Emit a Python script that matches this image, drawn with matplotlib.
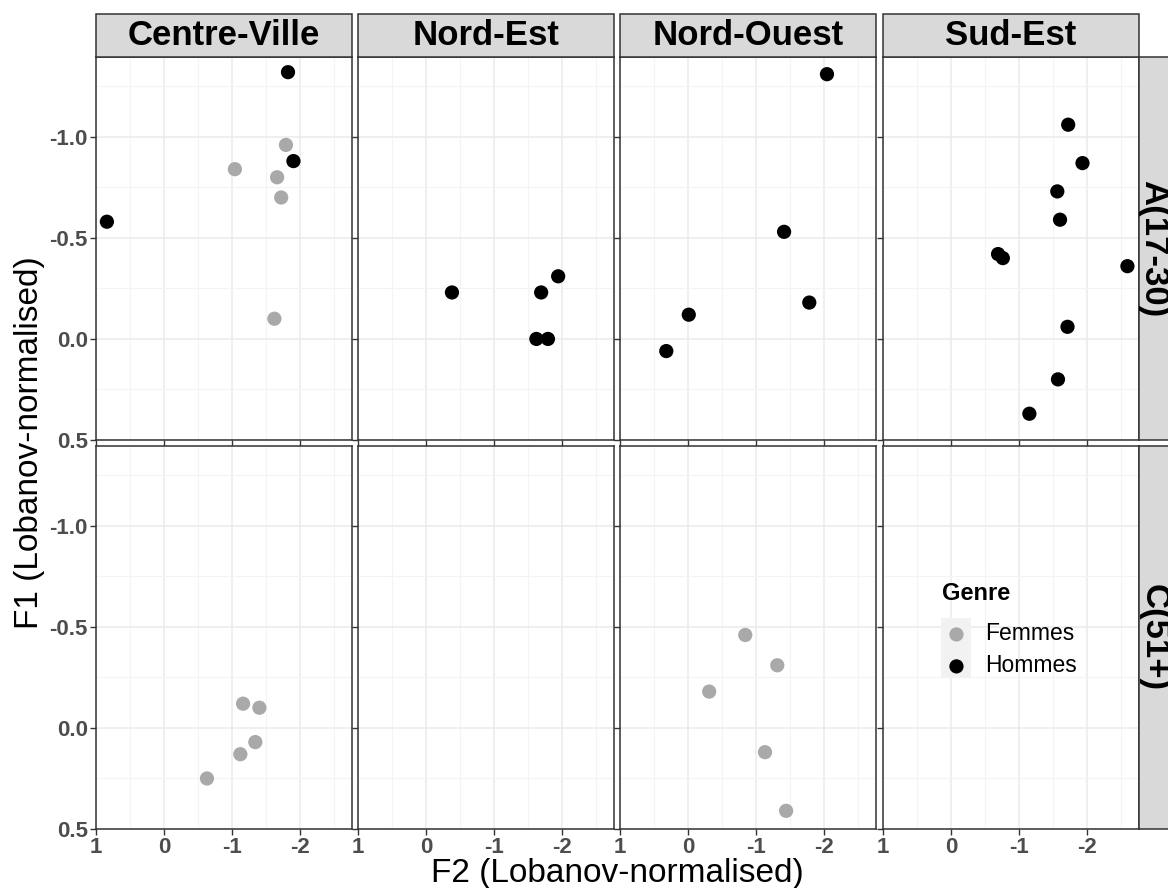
import matplotlib
matplotlib.use("Agg")
import matplotlib.pyplot as plt
from matplotlib.patches import Rectangle

plt.rcParams['font.family'] = ['Liberation Sans', 'DejaVu Sans']

# facets
zones = ["Centre-Ville", "Nord-Est", "Nord-Ouest", "Sud-Est"]
ages = ["A(17-30)", "C(51+)"]
genres = ["Femmes", "Hommes"]
genre_colors = {"Femmes": "#A9A9A9", "Hommes": "#000000"}

# A(17-30)
cv_a_f2 = [-1.82, -1.90, 0.84, -1.79, -1.04, -1.66, -1.72, -1.62]
cv_a_f1 = [-1.32, -0.88, -0.58, -0.96, -0.84, -0.80, -0.70, -0.10]
cv_a_genre = ["Hommes", "Hommes", "Hommes", "Femmes", "Femmes", "Femmes", "Femmes", "Femmes"]

ne_a_f2 = [-0.38, -1.69, -1.94, -1.62, -1.79]
ne_a_f1 = [-0.23, -0.23, -0.31, 0.00, 0.00]
ne_a_genre = ["Hommes"] * 5

no_a_f2 = [-2.04, -1.41, -1.78, -0.01, 0.32]
no_a_f1 = [-1.31, -0.53, -0.18, -0.12, 0.06]
no_a_genre = ["Hommes"] * 5

se_a_f2 = [-1.72, -1.93, -1.56, -1.60, -0.69, -0.76, -2.59, -1.71, -1.57, -1.15]
se_a_f1 = [-1.06, -0.87, -0.73, -0.59, -0.42, -0.40, -0.36, -0.06, 0.20, 0.37]
se_a_genre = ["Hommes"] * 10

# C(51+)
cv_c_f2 = [-1.16, -1.40, -1.34, -1.12, -0.63]
cv_c_f1 = [-0.12, -0.10, 0.07, 0.13, 0.25]
cv_c_genre = ["Femmes"] * 5

no_c_f2 = [-0.84, -1.31, -0.31, -1.13, -1.44]
no_c_f1 = [-0.46, -0.31, -0.18, 0.12, 0.41]
no_c_genre = ["Femmes"] * 5

panels = {
    ("A(17-30)", "Centre-Ville"): (cv_a_f2, cv_a_f1, cv_a_genre),
    ("A(17-30)", "Nord-Est"): (ne_a_f2, ne_a_f1, ne_a_genre),
    ("A(17-30)", "Nord-Ouest"): (no_a_f2, no_a_f1, no_a_genre),
    ("A(17-30)", "Sud-Est"): (se_a_f2, se_a_f1, se_a_genre),
    ("C(51+)", "Centre-Ville"): (cv_c_f2, cv_c_f1, cv_c_genre),
    ("C(51+)", "Nord-Ouest"): (no_c_f2, no_c_f1, no_c_genre),
}

W, H = 1168, 888
fig = plt.figure(figsize=(W / 100, H / 100), dpi=100)

col_left = [96, 358, 620, 883]
row_top = [57, 446]
pw, ph = 256, 383
grid_col = "#EBEBEB"
dark = "#333333"

def fx(px):
    return px / W

def fy(py):
    return 1 - py / H

handles = {}
for r, age in enumerate(ages):
    for c, zone in enumerate(zones):
        ax = fig.add_axes([fx(col_left[c]), fy(row_top[r] + ph), pw / W, ph / H])
        ax.set_xlim(1, -2.76)
        ax.set_ylim(0.5, -1.395)
        ax.set_xticks([1, 0, -1, -2])
        ax.set_xticks([0.5, -0.5, -1.5, -2.5], minor=True)
        ax.set_yticks([-1.0, -0.5, 0.0, 0.5])
        ax.set_yticks([-1.25, -0.75, -0.25, 0.25], minor=True)
        ax.grid(True, which="major", color=grid_col, lw=1.1)
        ax.grid(True, which="minor", color="#F4F4F4", lw=0.8)
        ax.set_axisbelow(True)
        for s in ax.spines.values():
            s.set_color(dark)
            s.set_linewidth(1.1)
        ax.tick_params(which="minor", length=0)
        ax.tick_params(which="major", length=4, color=dark, width=1.0,
                       labelsize=16, labelcolor="#4D4D4D", pad=2)
        ax.set_xticklabels(["1", "0", "-1", "-2"], fontweight="bold")
        ax.set_yticklabels(["-1.0", "-0.5", "0.0", "0.5"], fontweight="bold")
        if r == 0:
            ax.tick_params(axis="x", labelbottom=False)
        if c > 0:
            ax.tick_params(axis="y", labelleft=False)

        key = (age, zone)
        if key in panels:
            f2, f1, g = panels[key]
            for gen in genres:
                xs = [x for x, gg in zip(f2, g) if gg == gen]
                ys = [y for y, gg in zip(f1, g) if gg == gen]
                if xs:
                    h = ax.scatter(xs, ys, s=105, color=genre_colors[gen],
                                   edgecolors="none", zorder=3, label=gen)
                    handles[gen] = h

        # top strips
        if r == 0:
            fig.patches.append(Rectangle((fx(col_left[c]), fy(row_top[0])), pw / W, 43 / H,
                                         transform=fig.transFigure, facecolor="#D9D9D9",
                                         edgecolor=dark, lw=1.1))
            fig.text(fx(col_left[c] + pw / 2), fy(row_top[0] - 21.5), zone,
                     ha="center", va="center", fontsize=25, fontweight="bold")

    # right strips
    fig.patches.append(Rectangle((fx(col_left[3] + pw), fy(row_top[r] + ph)), 50 / W, ph / H,
                                 transform=fig.transFigure, facecolor="#D9D9D9",
                                 edgecolor=dark, lw=1.1))
    fig.text(fx(col_left[3] + pw + 15), fy(row_top[r] + ph / 2), age,
             ha="center", va="center", fontsize=25, fontweight="bold", rotation=-90)

fig.text(fx(617), fy(873), "F2 (Lobanov-normalised)", ha="center", va="center", fontsize=24)
fig.text(fx(30), fy(443), "F1 (Lobanov-normalised)", ha="center", va="center",
         fontsize=24, rotation=90)

# legend
fig.patches.append(Rectangle((fx(941), fy(678)), 30 / W, 60 / H, transform=fig.transFigure,
                             facecolor="#F2F2F2", edgecolor="none"))
fig.text(fx(942), fy(593), "Genre", ha="left", va="center", fontsize=17, fontweight="bold")
leg = fig.legend([handles[g] for g in genres], genres, loc="upper left",
                 bbox_to_anchor=(fx(930), fy(611)), frameon=False,
                 fontsize=16.5, borderpad=0, handlelength=1.31, handletextpad=0.61,
                 labelspacing=0.39)

fig.savefig("out.png", dpi=100)
